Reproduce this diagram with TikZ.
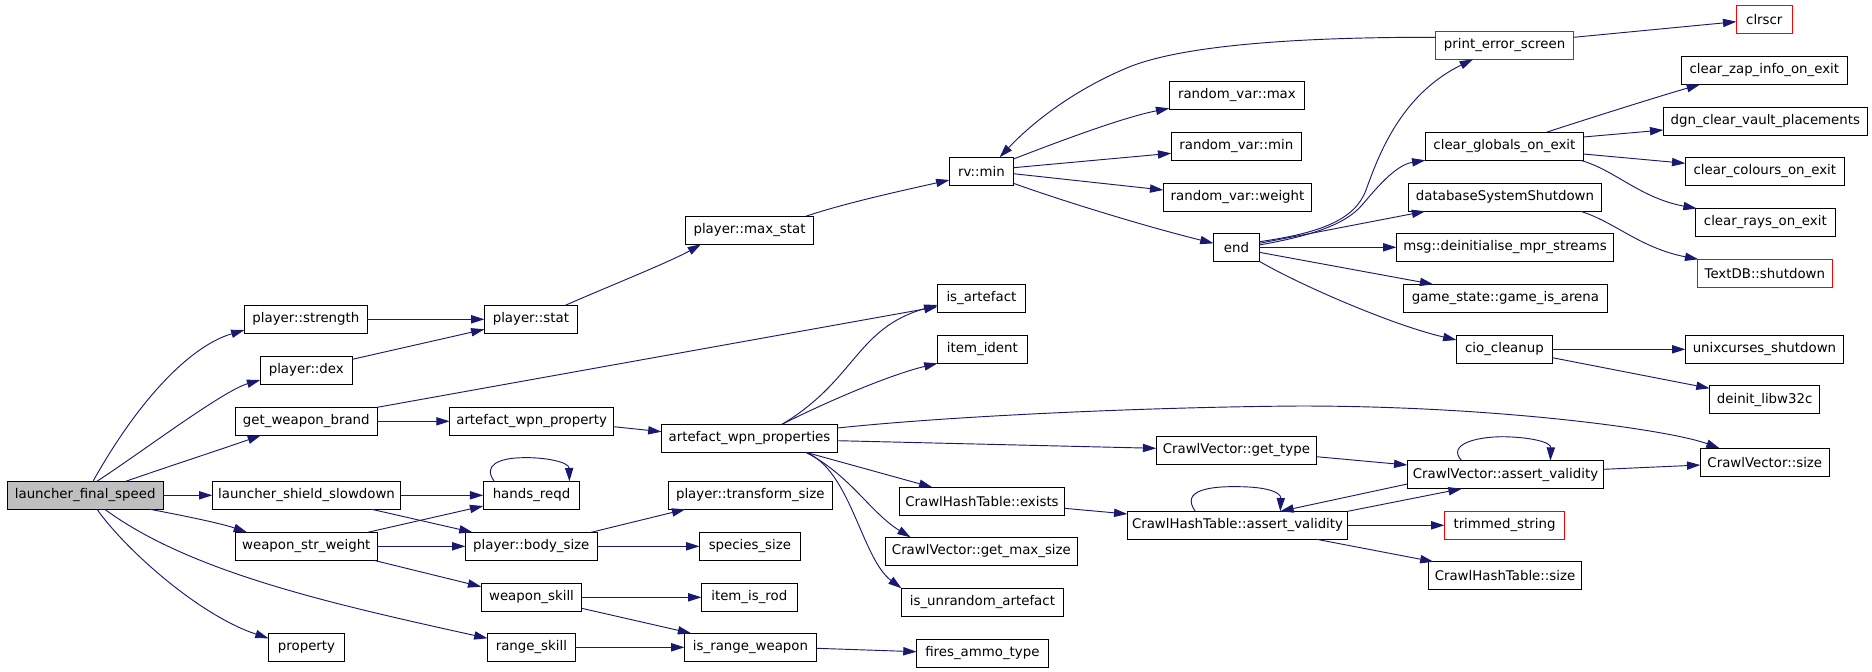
\documentclass[tikz,border=0pt]{standalone}
\usepackage{fontspec}
\setmainfont{DejaVu Sans}
\usetikzlibrary{arrows.meta}
\definecolor{navy}{HTML}{191970}
\definecolor{graybox}{HTML}{BFBFBF}
\begin{document}
\begin{tikzpicture}[x=0.75pt,y=-0.75pt,
  box/.style={draw=black,line width=0.75pt,minimum height=21pt,inner sep=0pt,outer sep=0pt,
    font=\fontsize{10pt}{12pt}\selectfont,anchor=center},
  redbox/.style={box,draw=red},
  bw/.style={minimum width=#1*0.75pt},
  conn/.style={draw=navy,line width=0.7pt,-{Triangle[length=10pt,width=6.2pt]}}]
\fill[white] (0,0) rectangle (1872,671);
\useasboundingbox (0,0) rectangle (1872,671);
% nodes
\node[box,bw=156.2,fill=graybox] (lfs) at (85.2,495.3) {launcher\_final\_speed};
\node[box,bw=122.9] (pstr) at (305.9,319.3) {player::strength};
\node[box,bw=92.9] (pstat) at (530.9,319.3) {player::stat};
\node[box,bw=92.1] (pdex) at (306.3,370.3) {player::dex};
\node[box,bw=141.9] (gwb) at (306.3,421.3) {get\_weapon\_brand};
\node[box,bw=164.1] (awp) at (531.7,421.3) {artefact\_wpn\_property};
\node[box,bw=188.3] (lss) at (306.5,495.3) {launcher\_shield\_slowdown};
\node[box,bw=96.5] (hr) at (531.5,495.3) {hands\_reqd};
\node[box,bw=141.9] (wsw) at (306.3,546.3) {weapon\_str\_weight};
\node[box,bw=131.7] (pbs) at (531.3,546.3) {player::body\_size};
\node[box,bw=100.5] (wsk) at (531.5,597.3) {weapon\_skill};
\node[box,bw=75.9] (prop) at (306.5,647.3) {property};
\node[box,bw=87.8] (rsk) at (531.4,647.3) {range\_skill};
\node[box,bw=87.8] (isa) at (981.4,298.3) {is\_artefact};
\node[box,bw=89.8] (iid) at (982.4,349.3) {item\_ident};
\node[box,bw=176] (awps) at (749.5,438.3) {artefact\_wpn\_properties};
\node[box,bw=164.1] (pts) at (750.3,495.3) {player::transform\_size};
\node[box,bw=100.8] (ssz) at (749.9,546.3) {species\_size};
\node[box,bw=95.6] (iir) at (749.3,597.3) {item\_is\_rod};
\node[box,bw=132] (irw) at (750.5,647.3) {is\_range\_weapon};
\node[box,bw=164.8] (chte) at (982,501.3) {CrawlHashTable::exists};
\node[box,bw=192.2] (cvgms) at (981.4,551.3) {CrawlVector::get\_max\_size};
\node[box,bw=161.8] (iua) at (982.4,602.3) {is\_unrandom\_artefact};
\node[box,bw=131.6] (fat) at (982.4,653.3) {fires\_ammo\_type};
\node[box,bw=160.4] (cvgt) at (1236.4,450.3) {CrawlVector::get\_type};
\node[box,bw=220.3] (chtav) at (1237.5,525.3) {CrawlHashTable::assert\_validity};
\node[box,bw=196.3] (cvav) at (1505.5,474.7) {CrawlVector::assert\_validity};
\node[redbox,bw=120.1] (trs) at (1504.5,525.3) {trimmed\_string};
\node[box,bw=153.6] (chts) at (1505,575.7) {CrawlHashTable::size};
\node[box,bw=129] (cvs) at (1764.8,462.3) {CrawlVector::size};
\node[box,bw=128.6] (pms) at (749.5,230.3) {player::max\_stat};
\node[box,bw=64] (rvmin) at (981.4,171.3) {rv::min};
\node[box,bw=135.3] (rvmax) at (1236.9,95.3) {random\_var::max};
\node[box,bw=130.1] (rvmn) at (1236.3,146.3) {random\_var::min};
\node[box,bw=148.4] (rvw) at (1237.5,197.3) {random\_var::weight};
\node[box,bw=45.8] (endn) at (1236.4,247.3) {end};
\node[redbox,bw=138.2] (pes) at (1504.6,45.3) {print\_error\_screen};
\node[redbox,bw=56] (clrscr) at (1764.3,19.5) {clrscr};
\node[box,bw=166] (czi) at (1764.3,70.5) {clear\_zap\_info\_on\_exit};
\node[box,bw=204] (dcvp) at (1765.3,121.5) {dgn\_clear\_vault\_placements};
\node[box,bw=158] (cgoe) at (1504.4,146.3) {clear\_globals\_on\_exit};
\node[box,bw=159] (cce) at (1764.8,171.3) {clear\_colours\_on\_exit};
\node[box,bw=193] (dss) at (1505,197.3) {databaseSystemShutdown};
\node[box,bw=140] (croe) at (1765.3,222.5) {clear\_rays\_on\_exit};
\node[box,bw=217.2] (mdm) at (1505,247.3) {msg::deinitialise\_mpr\_streams};
\node[redbox,bw=135] (tdb) at (1764.8,273.3) {TextDB::shutdown};
\node[box,bw=204.4] (gsga) at (1505.4,298.3) {game\_state::game\_is\_arena};
\node[box,bw=96] (cio) at (1504.4,349.3) {cio\_cleanup};
\node[box,bw=158] (ucs) at (1764.4,349.3) {unixcurses\_shutdown};
\node[box,bw=110] (dlw) at (1764.6,399.7) {deinit\_libw32c};
% edges
\draw[conn] ([shift={(7.8,0)}]lfs.north) .. controls (135,406) and (187,347) .. ([shift={(0,10.7)}]pstr.west);
\draw[conn] ([shift={(11.7,0)}]lfs.north) .. controls (142,452) and (222.5,391) .. ([shift={(0,9.7)}]pdex.west);
\draw[conn] ([shift={(40.5,0)}]lfs.north) .. controls (170,466) and (225,448) .. ([shift={(-45.3,0)}]gwb.south);
\draw[conn] (lfs.east) -- (lss.west);
\draw[conn] ([shift={(64.8,0)}]lfs.south) .. controls (180,515) and (220,523) .. ([shift={(-59.3,0)}]wsw.north);
\draw[conn] ([shift={(11.8,0)}]lfs.south) .. controls (125,549) and (198.5,615) .. ([shift={(0,-9)}]prop.west);
\draw[conn] ([shift={(19.6,0)}]lfs.south) .. controls (190,572) and (330,603.5) .. ([shift={(0,-9)}]rsk.west);
\draw[conn] (pstr.east) -- (pstat.west);
\draw[conn] ([shift={(0,3)}]pdex.north east) -- ([shift={(0,-4)}]pstat.south west);
\draw[conn] ([shift={(34.5,0)}]pstat.north) .. controls (595,292) and (670,262) .. ([shift={(-48.5,0)}]pms.south);
\draw[conn] ([shift={(56.3,0)}]pms.north) .. controls (845,203) and (905,190) .. ([shift={(0,8.7)}]rvmin.west);
\draw[conn] ([shift={(0,1.7)}]rvmin.north east) .. controls (1050,145) and (1120,118) .. ([shift={(0,-1)}]rvmax.south west);
\draw[conn] ([shift={(0,-3.6)}]rvmin.east) -- ([shift={(0,7)}]rvmn.west);
\draw[conn] ([shift={(0,2.4)}]rvmin.east) -- ([shift={(0,-7.3)}]rvw.west);
\draw[conn] ([shift={(0,-2)}]rvmin.south east) .. controls (1060,200) and (1140,225) .. ([shift={(0,-4)}]endn.west);
\draw[conn] ([shift={(0,-8)}]pes.west) .. controls (1300,37) and (1180,45) .. (1126,68.3) .. controls (1070,92) and (1030,125) .. ([shift={(18.2,0)}]rvmin.north);
\draw[conn] ([shift={(0,-8)}]pes.east) -- ([shift={(0,2.2)}]clrscr.west);
\draw[conn] ([shift={(0,-5.6)}]endn.east) .. controls (1320,233) and (1355,220) .. (1366,190) .. controls (1378,157) and (1400,95) .. ([shift={(-31.6,0)}]pes.south);
\draw[conn] ([shift={(0,-2.3)}]endn.east) .. controls (1310,236) and (1345,225) .. (1362,205) .. controls (1375,190) and (1395,165) .. (cgoe.south west);
\draw[conn] ([shift={(0,-4)}]endn.east) -- ([shift={(16.7,0)}]dss.south west);
\draw[conn] (endn.east) -- (mdm.west);
\draw[conn] ([shift={(0,5)}]endn.east) -- ([shift={(30,0)}]gsga.north west);
\draw[conn] (endn.south east) .. controls (1300,285) and (1392,325) .. ([shift={(0,-9.3)}]cio.west);
\draw[conn] ([shift={(41.9,0)}]cgoe.north) .. controls (1590,118) and (1660,96) .. ([shift={(18.7,0)}]czi.south west);
\draw[conn] ([shift={(0,4.7)}]cgoe.north east) -- ([shift={(0,8.5)}]dcvp.west);
\draw[conn] ([shift={(0,7.7)}]cgoe.east) -- ([shift={(0,-8)}]cce.west);
\draw[conn] ([shift={(-2.8,0)}]cgoe.south east) .. controls (1615,170) and (1640,198) .. ([shift={(1.4,0)}]croe.north west);
\draw[conn] ([shift={(-20.9,0)}]dss.south east) .. controls (1615,222) and (1640,248) .. ([shift={(1,0)}]tdb.north west);
\draw[conn] (cio.east) -- (ucs.west);
\draw[conn] ([shift={(0,8.4)}]cio.east) -- ([shift={(0,-11.4)}]dlw.west);
\draw[conn] (gwb.north east) -- ([shift={(0,8.4)}]isa.west);
\draw[conn] (gwb.east) -- (awp.west);
\draw[conn] ([shift={(0,5.4)}]awp.east) -- ([shift={(0,-6.6)}]awps.west);
\draw[conn] ([shift={(32.5,0)}]awps.north) .. controls (856,380) and (856,328) .. ([shift={(0,6.7)}]isa.west);
\draw[conn] ([shift={(32.5,0)}]awps.north) .. controls (822,404) and (887.5,375.4) .. (iid.south west);
\draw[conn] ([shift={(0,-10.3)}]awps.east) .. controls (950,416) and (1150,407) .. (1300,406) .. controls (1500,406) and (1670,430) .. ([shift={(19.3,0)}]cvs.north west);
\draw[conn] ([shift={(0,2.4)}]awps.east) -- ([shift={(0,-2)}]cvgt.west);
\draw[conn] ([shift={(56.3,0)}]awps.south) -- ([shift={(32.8,0)}]chte.north west);
\draw[conn] ([shift={(56.3,0)}]awps.south) .. controls (850,475) and (870.6,512.8) .. ([shift={(25.3,0)}]cvgms.north west);
\draw[conn] ([shift={(56.3,0)}]awps.south) .. controls (850.8,470.3) and (861.5,558.3) .. (iua.north west);
\draw[conn] ([shift={(0,6.4)}]cvgt.east) -- ([shift={(0,-9.7)}]cvav.west);
\draw[conn] ([shift={(0,7)}]chte.east) -- ([shift={(0,-11.3)}]chtav.west);
\draw[conn] ([shift={(-42.2,0)}]chtav.north) .. controls (1180,490) and (1210,486) .. (1240,486.7) .. controls (1266,487) and (1281,492) .. ([shift={(42.8,0)}]chtav.north);
\draw[conn] (chtav.north east) -- ([shift={(54.4,0)}]cvav.south west);
\draw[conn] ([shift={(0,9.3)}]cvav.west) -- ([shift={(42.8,0)}]chtav.north);
\draw[conn] ([shift={(-43.8,0)}]cvav.north) .. controls (1447,445) and (1474,437) .. (1502,436.7) .. controls (1530,437) and (1551,442) .. ([shift={(44.9,0)}]cvav.north);
\draw[conn] ([shift={(0,-5.4)}]cvav.east) -- ([shift={(0,2.7)}]cvs.west);
\draw[conn] (chtav.east) -- (trs.west);
\draw[conn] ([shift={(79.1,0)}]chtav.south) -- ([shift={(5.3,0)}]chts.north west);
\draw[conn] (lss.east) -- (hr.west);
\draw[conn] ([shift={(65.2,0)}]lss.south) -- ([shift={(7.1,0)}]pbs.north west);
\draw[conn] ([shift={(-37.2,0)}]hr.north) .. controls (482,465) and (500,458) .. (522,457.7) .. controls (545,457) and (569,462) .. ([shift={(37.9,0)}]hr.north);
\draw[conn] ([shift={(-9.5,0)}]wsw.north east) -- ([shift={(0,-3.3)}]hr.south west);
\draw[conn] (wsw.east) -- (pbs.west);
\draw[conn] ([shift={(-3.5,0)}]wsw.south east) -- ([shift={(0,-10.6)}]wsk.west);
\draw[conn] ([shift={(-6,0)}]pbs.north east) -- ([shift={(17,0)}]pts.south west);
\draw[conn] (pbs.east) -- (ssz.west);
\draw[conn] (wsk.east) -- (iir.west);
\draw[conn] ([shift={(0,11)}]wsk.east) -- ([shift={(6.7,0)}]irw.north west);
\draw[conn] (rsk.east) -- (irw.west);
\draw[conn] ([shift={(0,1)}]irw.east) -- ([shift={(0,-1.6)}]fat.west);
\end{tikzpicture}
\end{document}
